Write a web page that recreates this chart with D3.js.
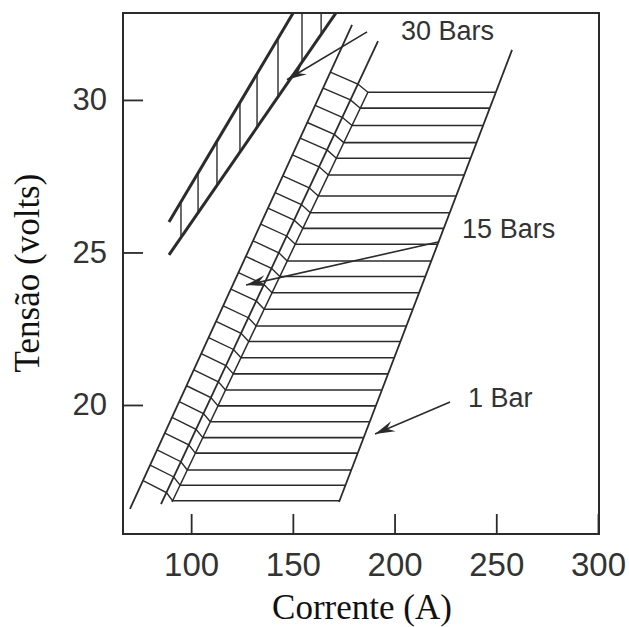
<!DOCTYPE html>
<html>
<head>
<meta charset="utf-8">
<script src="https://cdn.jsdelivr.net/npm/d3@7"></script>
<style>
  html, body { margin: 0; padding: 0; background: #ffffff; }
  svg { display: block; }
</style>
</head>
<body>
<div id="chart"></div>
<script>
// ---------- data ----------
const currentTicks = [100, 150, 200, 250, 300];          // Corrente (A)
const voltageTicks = [20, 25, 30];                        // Tensão (volts)

// 1 Bar region: horizontal levels (volts)
const levels1Bar = [30.25, 29.73, 29.16, 28.60, 28.09, 27.54, 26.85, 26.30, 25.79,
  25.27, 24.72, 24.21, 23.68, 23.14, 22.59, 22.08, 21.55, 21.02, 20.49, 19.97,
  19.45, 18.93, 18.42, 17.87, 17.37, 16.86];

// boundary lines [[current, voltage], [current, voltage]]
const line15Left  = [[69.94, 16.59], [179.1, 32.46]];
const line15Right = [[85.18, 16.75], [191.87, 31.93]];
const line1Left   = [[90.6, 16.82], [186.95, 30.26]];
const line1Right  = [[172.7, 16.82], [257.75, 31.64]];
const line30Upper = [[89.1, 26.0], [152.0, 33.06]];
const line30Lower = [[89.1, 24.92], [172.0, 32.93]];

// hatch offsets (volts above each level) for the 15 Bars band
const hatchOffsetOuter = 0.66;
const hatchOffsetInner = 0.27;

// 30 Bars band: vertical hatch currents (A)
const hatch30 = [95.0, 103.4, 112.7, 124.0, 132.4, 142.7, 154.5, 163.9];

// annotations: label, label anchor [A, V], arrow start [A, V], arrow tip [A, V]
const annLabels = ["30 Bars", "15 Bars", "1 Bar"];
const annLabelPos = [[203.2, 31.97], [233.2, 25.47], [236.1, 19.93]];
const annArrowFrom = [[186.5, 32.23], [221.4, 25.34], [227.3, 20.10]];
const annArrowTo = [[147.1, 30.66], [127.0, 23.93], [190.4, 19.05]];

// ---------- layout ----------
const W = 629, H = 627;
const frame = { left: 123, right: 599, top: 13, bottom: 534 };

const svg = d3.select("#chart").append("svg")
  .attr("width", W).attr("height", H);

const x = d3.scaleLinear().domain([66.5, 300.5]).range([frame.left, frame.right]);
const y = d3.scaleLinear().domain([15.77, 32.85]).range([frame.bottom, frame.top]);

const ink = "#2b2b2b";

svg.append("defs").append("clipPath").attr("id", "plotClip")
  .append("rect")
  .attr("x", frame.left).attr("y", frame.top)
  .attr("width", frame.right - frame.left).attr("height", frame.bottom - frame.top);

const defs = svg.select("defs");
defs.append("marker")
  .attr("id", "arrow")
  .attr("markerUnits", "userSpaceOnUse")
  .attr("viewBox", "-20 -6 21 12")
  .attr("refX", 0).attr("refY", 0)
  .attr("markerWidth", 21).attr("markerHeight", 12)
  .attr("orient", "auto")
  .append("path")
  .attr("d", "M0,0L-20,-5.5L-13,0L-20,5.5Z")
  .attr("fill", ink);

// helpers: current on a line at a given voltage, voltage at a given current
function aAtV(line, v) {
  const [[a0, v0], [a1, v1]] = line;
  return a0 + (v - v0) * (a1 - a0) / (v1 - v0);
}
function vAtA(line, a) {
  const [[a0, v0], [a1, v1]] = line;
  return v0 + (a - a0) * (v1 - v0) / (a1 - a0);
}

const g = svg.append("g").attr("clip-path", "url(#plotClip)");
const lineGen = d3.line().x(d => x(d[0])).y(d => y(d[1]));

// 1 Bar horizontals
g.selectAll("line.h1").data(levels1Bar).join("line")
  .attr("class", "h1")
  .attr("x1", v => x(aAtV(line1Left, v))).attr("y1", v => y(v))
  .attr("x2", v => x(aAtV(line1Right, v))).attr("y2", v => y(v))
  .attr("stroke", ink).attr("stroke-width", 1.6);

// 15 Bars hatches
g.selectAll("path.h15").data(levels1Bar).join("path")
  .attr("class", "h15")
  .attr("d", v => lineGen([
    [aAtV(line15Left, v + hatchOffsetOuter), v + hatchOffsetOuter],
    [aAtV(line15Right, v + hatchOffsetInner), v + hatchOffsetInner],
    [aAtV(line1Left, v), v]
  ]))
  .attr("fill", "none").attr("stroke", ink).attr("stroke-width", 1.4);

// long boundary lines
[[line15Left, 1.8], [line15Right, 1.8], [line1Left, 1.5], [line1Right, 1.8]].forEach(([ln, w]) => {
  g.append("path").attr("d", lineGen(ln))
    .attr("fill", "none").attr("stroke", ink).attr("stroke-width", w);
});

// 30 Bars band
g.selectAll("line.h30").data(hatch30).join("line")
  .attr("class", "h30")
  .attr("x1", a => x(a)).attr("y1", a => y(vAtA(line30Upper, a)))
  .attr("x2", a => x(a)).attr("y2", a => y(vAtA(line30Lower, a)))
  .attr("stroke", ink).attr("stroke-width", 1.4);
[line30Upper, line30Lower].forEach(ln => {
  g.append("path").attr("d", lineGen(ln))
    .attr("fill", "none").attr("stroke", ink).attr("stroke-width", 3);
});

// arrows
svg.selectAll("line.arrow").data(annLabels).join("line")
  .attr("class", "arrow")
  .attr("x1", (d, i) => x(annArrowFrom[i][0])).attr("y1", (d, i) => y(annArrowFrom[i][1]))
  .attr("x2", (d, i) => x(annArrowTo[i][0])).attr("y2", (d, i) => y(annArrowTo[i][1]))
  .attr("stroke", ink).attr("stroke-width", 1.6)
  .attr("marker-end", "url(#arrow)");

// labels
svg.selectAll("text.ann").data(annLabels).join("text")
  .attr("class", "ann")
  .attr("x", (d, i) => x(annLabelPos[i][0])).attr("y", (d, i) => y(annLabelPos[i][1]))
  .attr("font-family", "'Liberation Sans', Arial, Helvetica, sans-serif")
  .attr("font-size", 27).attr("fill", "#333")
  .text(d => d);

// frame
svg.append("rect")
  .attr("x", frame.left).attr("y", frame.top)
  .attr("width", frame.right - frame.left).attr("height", frame.bottom - frame.top)
  .attr("fill", "none").attr("stroke", ink).attr("stroke-width", 2);

// axes
const xAxis = svg.append("g")
  .attr("transform", `translate(0,${frame.bottom})`)
  .call(d3.axisBottom(x).tickValues(currentTicks).tickSize(-20).tickPadding(19).tickFormat(d3.format("d")));
const yAxis = svg.append("g")
  .attr("transform", `translate(${frame.left},0)`)
  .call(d3.axisLeft(y).tickValues(voltageTicks).tickSize(-20).tickPadding(16).tickFormat(d3.format("d")));

[xAxis, yAxis].forEach(ax => {
  ax.select(".domain").remove();
  ax.selectAll(".tick line").attr("stroke", ink).attr("stroke-width", 1.8);
  ax.selectAll(".tick text")
    .attr("font-family", "'Liberation Sans', Arial, Helvetica, sans-serif")
    .attr("fill", "#333");
});
xAxis.selectAll(".tick text").attr("font-size", 33);
yAxis.selectAll(".tick text").attr("font-size", 31);

// axis titles
svg.append("text")
  .attr("x", (frame.left + frame.right) / 2 + 1).attr("y", 619)
  .attr("text-anchor", "middle")
  .attr("font-family", "'Liberation Serif', 'Times New Roman', serif")
  .attr("font-size", 35).attr("fill", "#111")
  .text("Corrente (A)");
svg.append("text")
  .attr("transform", "translate(39,273) rotate(-90)")
  .attr("text-anchor", "middle")
  .attr("font-family", "'Liberation Serif', 'Times New Roman', serif")
  .attr("font-size", 35).attr("fill", "#111")
  .text("Tensão (volts)");
</script>
</body>
</html>
